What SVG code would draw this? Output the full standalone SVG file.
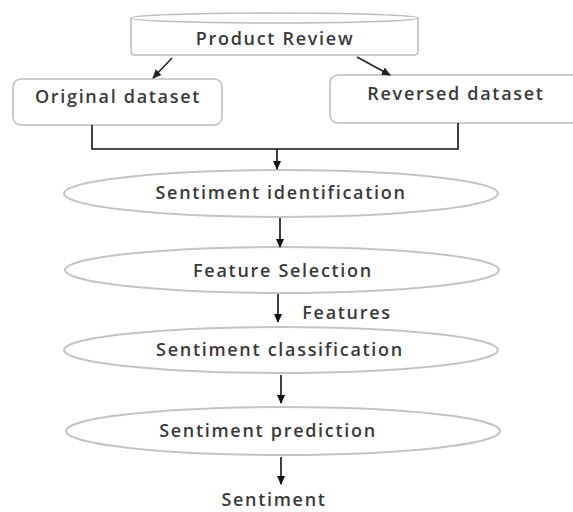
<svg xmlns="http://www.w3.org/2000/svg" width="573" height="512" viewBox="0 0 573 512">
<defs>
<style>
.lbl{font-family:"Open Sans","Liberation Sans",sans-serif;font-size:18px;font-weight:600;fill:#3a3a3a;text-anchor:middle;letter-spacing:1.7px}
.shape{fill:#fff;stroke:#bdbdbd;stroke-width:1.5}
.ell{fill:#fff;stroke:#c4c4c4;stroke-width:2}
.con{fill:none;stroke:#111;stroke-width:1.6}
</style>
<marker id="ah" viewBox="0 0 10 10" refX="9" refY="5" markerWidth="9" markerHeight="9" markerUnits="userSpaceOnUse" orient="auto">
<path d="M0,0.5 L10,5 L0,9.5 Z" fill="#111"/>
</marker>
<marker id="ahd" viewBox="0 0 10 10" refX="9" refY="5" markerWidth="9" markerHeight="9" markerUnits="userSpaceOnUse" orient="auto">
<path d="M0,0.5 L10,5 L0,9.5 Z" fill="#222"/>
</marker>
</defs>
<rect width="573" height="512" fill="#fff"/>
<g id="product-review">
<path class="shape" d="M131,18 A143.5,5 0 0,1 418,18 L418,51 Q418,55 414,55 L135,55 Q131,55 131,51 Z"/>
<path class="shape" fill="none" d="M131,18 A143.5,5 0 0,0 418,18"/>
<text class="lbl" x="275" y="45">Product Review</text>
</g>
<g id="original-dataset">
<rect class="shape" x="13" y="79" width="209" height="46" rx="8"/>
<text class="lbl" x="118" y="103">Original dataset</text>
</g>
<g id="reversed-dataset">
<rect class="shape" x="330" y="75" width="260" height="48" rx="8"/>
<text class="lbl" x="456" y="100">Reversed dataset</text>
</g>
<g id="sentiment-identification">
<ellipse class="ell" cx="281" cy="193.5" rx="217" ry="23.5"/>
<text class="lbl" x="281" y="199">Sentiment identification</text>
</g>
<g id="feature-selection">
<ellipse class="ell" cx="282" cy="270" rx="217" ry="23"/>
<text class="lbl" x="283" y="277">Feature Selection</text>
</g>
<g id="sentiment-classification">
<ellipse class="ell" cx="281" cy="350" rx="217" ry="23"/>
<text class="lbl" x="280" y="356">Sentiment classification</text>
</g>
<g id="sentiment-prediction">
<ellipse class="ell" cx="283" cy="431" rx="217" ry="24"/>
<text class="lbl" x="268" y="437">Sentiment prediction</text>
</g>
<g id="sentiment">
<text class="lbl" x="274" y="506">Sentiment</text>
</g>
<g id="connectors">
<line x1="172" y1="58" x2="153" y2="78" stroke="#222" stroke-width="1.6" marker-end="url(#ahd)"/>
<line x1="357" y1="57" x2="390" y2="75" stroke="#222" stroke-width="1.6" marker-end="url(#ahd)"/>
<polyline class="con" points="92,125 92,149 458,149 458,123"/>
<line class="con" x1="277" y1="149" x2="277" y2="169" marker-end="url(#ah)"/>
<line class="con" x1="280" y1="218" x2="280" y2="247" marker-end="url(#ah)"/>
<line class="con" x1="278" y1="294" x2="278" y2="322" marker-end="url(#ah)"/>
<text class="lbl" x="347" y="319">Features</text>
<line class="con" x1="281" y1="375" x2="281" y2="403" marker-end="url(#ah)"/>
<line class="con" x1="281" y1="457" x2="281" y2="484" marker-end="url(#ah)"/>
</g>
</svg>
